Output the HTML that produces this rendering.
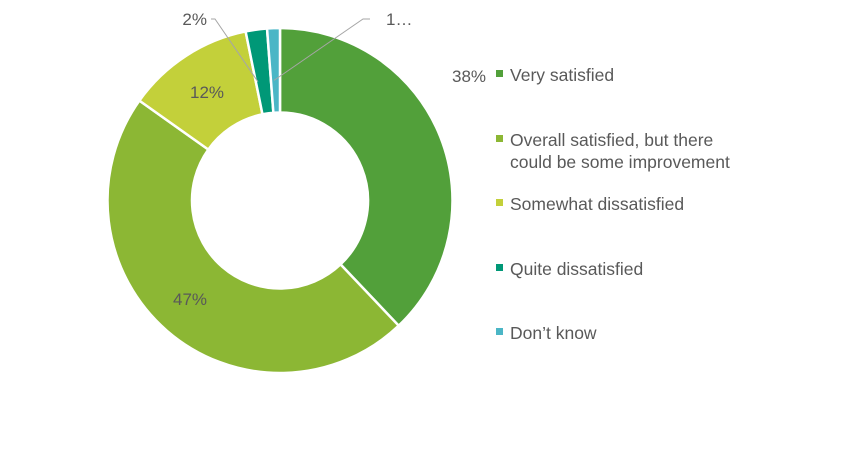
<!DOCTYPE html>
<html><head><meta charset="utf-8"><style>
body{margin:0;background:#fff;width:845px;height:450px;overflow:hidden;font-family:"Liberation Sans",sans-serif}
svg text{font-family:"Liberation Sans",sans-serif;fill:#595959}
</style></head><body>
<svg id="c" width="845" height="450"></svg>
<script>
const categories=["Very satisfied","Overall satisfied, but there could be some improvement","Somewhat dissatisfied","Quite dissatisfied","Don’t know"];
const values=[38,47,12,2,1.2];
const labels=["38%","47%","12%","2%","1…"];
const colors=["#52A03A","#8CB734","#C3D03A","#009877","#4BB6C6"];
const NS="http://www.w3.org/2000/svg",svg=document.getElementById('c');
const cx=280,cy=200.5,R=172.5,r=88;
function mk(t,a,p){const e=document.createElementNS(NS,t);for(const k in a)e.setAttribute(k,a[k]);(p||svg).appendChild(e);return e;}
function pt(a,rad){return [cx+rad*Math.sin(a),cy-rad*Math.cos(a)];}
const total=values.reduce((s,v)=>s+v,0);
let acc=0;
const labelPos=[[469,82],[190,305],[207,98],null,null];
values.forEach((v,i)=>{
  const a0=acc/total*2*Math.PI,a1=(acc+v)/total*2*Math.PI;acc+=v;
  const [x0,y0]=pt(a0,R),[x1,y1]=pt(a1,R),[x2,y2]=pt(a1,r),[x3,y3]=pt(a0,r);
  const lg=(a1-a0)>Math.PI?1:0;
  const p=mk('path',{d:`M${x0},${y0}A${R},${R} 0 ${lg} 1 ${x1},${y1}L${x2},${y2}A${r},${r} 0 ${lg} 0 ${x3},${y3}Z`,fill:colors[i],stroke:'#fff','stroke-width':2.5});
  
  
  const mid=(a0+a1)/2;
  if(labelPos[i]){
    const t=mk('text',{x:labelPos[i][0],y:labelPos[i][1],'font-size':17,'text-anchor':'middle'});t.textContent=labels[i];
    
    
  } else {
    const [mx,my]=pt(mid,(R+r)/2+30);
    const left=i===3;
    const ex=left?211:370, lx=left?215:363;
    const l=mk('polyline',{points:`${ex},19 ${lx},19 ${mx},${my+40}`,fill:'none',stroke:'#a6a6a6','stroke-width':1});
    
    
    const t=mk('text',{x:left?207:386,y:25,'font-size':17,'text-anchor':left?'end':'start'});t.textContent=labels[i];
    
    
  }
});
const legY=[[75],[140,162],[204],[269],[333]];
const legLines=[["Very satisfied"],["Overall satisfied, but there","could be some improvement"],["Somewhat dissatisfied"],["Quite dissatisfied"],["Don’t know"]];
legY.forEach((ys,i)=>{
  const g=mk('g',{});
  
  
  mk('rect',{x:496,y:ys[0]-5,width:7,height:7,fill:colors[i]},g);
  ys.forEach((y,j)=>{const t=mk('text',{x:510,y:y+6,'font-size':17.5},g);t.textContent=legLines[i][j];});
});
</script>
</body></html>
